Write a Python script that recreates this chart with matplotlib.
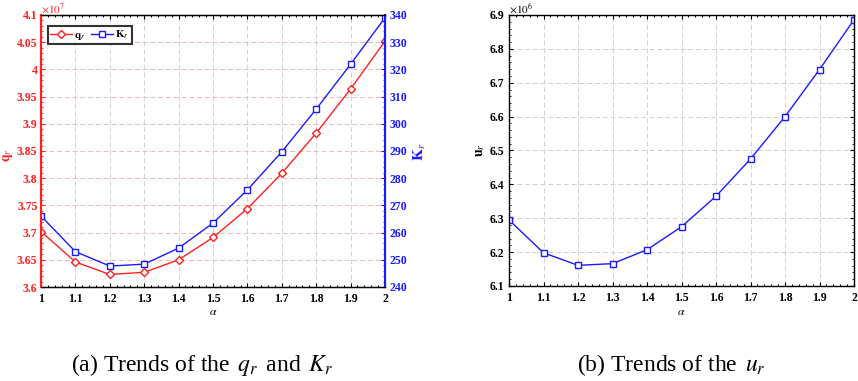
import matplotlib
matplotlib.use("Agg")
import matplotlib.pyplot as plt
from matplotlib.ticker import AutoMinorLocator, FuncFormatter, MultipleLocator

alpha = [1.0, 1.1, 1.2, 1.3, 1.4, 1.5, 1.6, 1.7, 1.8, 1.9, 2.0]
q_r = [3.702, 3.646, 3.623, 3.627, 3.650, 3.691, 3.744, 3.809, 3.883, 3.964, 4.052]  # x1e7
K_r = [266.1, 253.0, 247.7, 248.4, 254.3, 263.5, 275.7, 289.7, 305.4, 321.9, 339.0]
u_r = [6.295, 6.198, 6.161, 6.166, 6.207, 6.275, 6.365, 6.475, 6.600, 6.739, 6.886]  # x1e6

RED = "#ff2020"
BLUE = "#1a1aff"
serif = "Liberation Serif"
plt.rcParams["font.family"] = serif
plt.rcParams["mathtext.fontset"] = "stix"

fig = plt.figure(figsize=(8.58, 3.81), dpi=100)
W, H = 858, 381
TS = 8.5

def ax_rect(l, r, t, b):
    return [l / W, 1 - b / H, (r - l) / W, (b - t) / H]

fmt = FuncFormatter(lambda v, p: f"{v:g}")

def style_x(ax):
    ax.set_xlim(1, 2)
    ax.xaxis.set_major_locator(MultipleLocator(0.1))
    ax.xaxis.set_major_formatter(fmt)
    ax.xaxis.set_minor_locator(AutoMinorLocator(5))
    ax.tick_params(axis="x", which="both", top=True, direction="in", labelsize=TS, width=0.8)
    ax.tick_params(axis="x", which="major", length=3, pad=4)
    ax.tick_params(axis="x", which="minor", length=1.5)
    for lab in ax.get_xticklabels():
        lab.set_fontweight("bold")

# ---------- left panel ----------
ax1 = fig.add_axes(ax_rect(41, 385, 15, 287))
ax1.plot(alpha, q_r, color=RED, lw=1.0, marker="D", ms=4.2, mfc="white", mec=RED, mew=1.0, label=r"$\mathbf{q}_r$")
ax1.set_ylim(3.6, 4.1)
ax1.yaxis.set_major_locator(MultipleLocator(0.05))
ax1.yaxis.set_major_formatter(fmt)
ax1.yaxis.set_minor_locator(AutoMinorLocator(5))
style_x(ax1)
ax1.tick_params(axis="y", which="both", colors=RED, direction="in", labelsize=TS, pad=2.5)
ax1.tick_params(axis="y", which="major", length=3)
ax1.tick_params(axis="y", which="minor", length=1.5)
for lab in ax1.get_yticklabels():
    lab.set_fontweight("bold")
ax1.grid(axis="y", ls=(0, (5, 3)), color="#f5b5b5", lw=0.7)
ax1.grid(axis="x", ls=(0, (5, 3)), color="#d0d0d0", lw=0.7)
ax1.spines["left"].set_color(RED)
ax1.spines["left"].set_linewidth(1.5)
for s in ("top", "bottom"):
    ax1.spines[s].set_linewidth(1.0)

ax2 = ax1.twinx()
ax2.plot(alpha, K_r, color=BLUE, lw=1.0, marker="s", ms=4.2, mfc="white", mec=BLUE, mew=1.0, label=r"$\mathbf{K}_r$")
ax2.set_ylim(240, 340)
ax2.yaxis.set_major_locator(MultipleLocator(10))
ax2.yaxis.set_minor_locator(AutoMinorLocator(5))
ax2.tick_params(axis="y", which="both", colors=BLUE, direction="in", labelsize=TS)
ax2.tick_params(axis="y", which="major", length=3)
ax2.tick_params(axis="y", which="minor", length=1.5)
for lab in ax2.get_yticklabels():
    lab.set_fontweight("bold")
ax2.spines["right"].set_color(BLUE)
ax2.spines["right"].set_linewidth(1.5)
ax2.spines["left"].set_color(RED)
ax2.spines["left"].set_linewidth(1.5)

h1, l1 = ax1.get_legend_handles_labels()
h2, l2 = ax2.get_legend_handles_labels()
leg = ax2.legend(h1 + h2, l1 + l2, loc="upper left", ncol=2, fontsize=8, frameon=True,
                 fancybox=False, edgecolor="black", borderpad=0.25, handlelength=1.9,
                 columnspacing=0.5, handletextpad=0.25, bbox_to_anchor=(0.0, 0.985), borderaxespad=0.6)
leg.get_frame().set_linewidth(1.5)

fig.text(8 / W, 1 - 155 / H, r"$\mathbf{q}_r$", color=RED, fontsize=10, rotation=90, ha="center", va="center")
fig.text(420 / W, 1 - 152 / H, r"$\mathbf{K}_r$", color=BLUE, fontsize=11, rotation=90, ha="center", va="center")
fig.text(213 / W, 1 - 312 / H, r"$\alpha$", color="black", fontsize=8.5, ha="center", va="center")
fig.text(41 / W, 1 - 9 / H, r"$\times10^7$", color=RED, fontsize=8, ha="left", va="center")

# ---------- right panel ----------
ax3 = fig.add_axes(ax_rect(509, 854, 15, 286))
ax3.plot(alpha, u_r, color=BLUE, lw=1.0, marker="s", ms=4.2, mfc="white", mec=BLUE, mew=1.0)
ax3.set_ylim(6.1, 6.9)
ax3.yaxis.set_major_locator(MultipleLocator(0.1))
ax3.yaxis.set_major_formatter(fmt)
ax3.yaxis.set_minor_locator(AutoMinorLocator(5))
style_x(ax3)
ax3.tick_params(axis="y", which="both", right=True, direction="in", labelsize=TS)
ax3.tick_params(axis="y", which="major", length=3)
ax3.tick_params(axis="y", which="minor", length=1.5)
for lab in ax3.get_yticklabels():
    lab.set_fontweight("bold")
ax3.grid(True, ls=(0, (5, 3)), color="#d0d0d0", lw=0.7)
for s in ax3.spines.values():
    s.set_linewidth(1.0)

fig.text(481 / W, 1 - 150 / H, r"$\mathbf{u}_r$", color="black", fontsize=10, rotation=90, ha="center", va="center")
fig.text(681 / W, 1 - 312 / H, r"$\alpha$", color="black", fontsize=8.5, ha="center", va="center")
fig.text(509 / W, 1 - 9 / H, r"$\times10^6$", color="black", fontsize=8, ha="left", va="center")

# ---------- captions ----------
fig.text(202 / W, 1 - 365 / H, r"(a) Trends of the $\,q_r\,$ and $\,K_r$", fontsize=17, ha="center", va="center")
fig.text(671 / W, 1 - 365 / H, r"(b) Trends of the $\,u_r$", fontsize=17, ha="center", va="center")

fig.savefig("out.png", dpi=100)
